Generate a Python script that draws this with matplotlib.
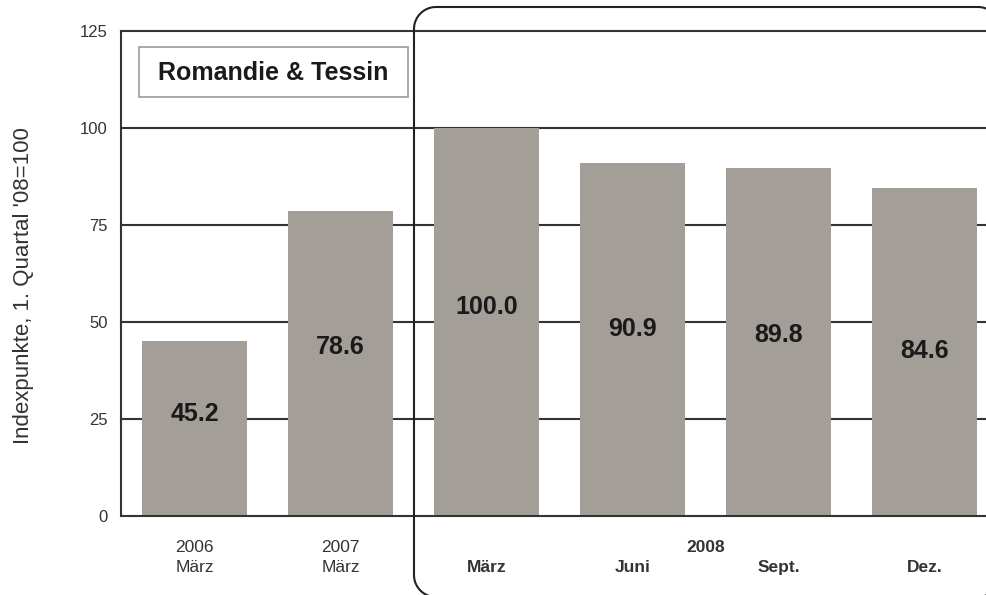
import matplotlib
matplotlib.use("Agg")
import numpy as np
import matplotlib.pyplot as plt
from matplotlib.patches import Rectangle
from matplotlib.lines import Line2D
from matplotlib.transforms import IdentityTransform, blended_transform_factory

plt.rcParams['font.family'] = ['Liberation Sans', 'DejaVu Sans']

# ---- data ----
years = ["2006", "2007", "2008", "2008", "2008", "2008"]
months = ["März", "März", "März", "Juni", "Sept.", "Dez."]
values = [45.2, 78.6, 100.0, 90.9, 89.8, 84.6]
value_labels = ["45.2", "78.6", "100.0", "90.9", "89.8", "84.6"]
yticks = [0, 25, 50, 75, 100, 125]
title_box = "Romandie & Tessin"
ylabel = "Indexpunkte, 1. Quartal '08=100"

# ---- layout ----
label_y = [26.3, 43.6, 53.9, 48.2, 46.6, 42.5]  # vertical position of value labels
W, H = 987, 595
fig = plt.figure(figsize=(W / 100, H / 100), dpi=100)
ax = fig.add_axes([121.5 / W, 79 / H, 876 / W, 485 / H])

bar_color = "#a39e98"
dark = "#333333"

x = list(range(len(values)))
ax.bar(x, values, width=0.72, color=bar_color, zorder=3)
ax.set_xlim(-0.5, len(values) - 0.5)
ax.set_ylim(0, 125)
ax.set_yticks(yticks)
ax.tick_params(axis='y', length=0, pad=10, labelsize=12, labelcolor=dark)
ax.set_xticks([])
for yv in yticks[1:]:
    ax.axhline(yv, color=dark, lw=1.5, zorder=1, clip_on=False)
for s in ["top", "right"]:
    ax.spines[s].set_visible(False)
for s in ["left", "bottom"]:
    ax.spines[s].set_color(dark)
    ax.spines[s].set_linewidth(1.5)
    ax.spines[s].set_zorder(4)

for xi, lab, ly in zip(x, value_labels, label_y):
    ax.text(xi, ly, lab, ha='center', va='center', fontsize=18,
            fontweight='bold', color='#1a1a1a', zorder=5)

trans = blended_transform_factory(ax.transData, ax.transAxes)
for xi, (yr, mo) in enumerate(zip(years, months)):
    if yr != "2008":
        ax.text(xi, -0.064, yr, transform=trans, ha='center', va='center',
                fontsize=12.5, color=dark)
        ax.text(xi, -0.107, mo, transform=trans, ha='center', va='center',
                fontsize=12.5, color=dark)
    else:
        ax.text(xi, -0.107, mo, transform=trans, ha='center', va='center',
                fontsize=12.5, fontweight='bold', color=dark)
idx08 = [i for i, yr in enumerate(years) if yr == "2008"]
ax.text((idx08[0] + idx08[-1]) / 2, -0.064, "2008", transform=trans,
        ha='center', va='center', fontsize=12.5, fontweight='bold', color=dark)

fig.text(24 / W, 1 - 286 / H, ylabel, rotation=90, ha='center', va='center',
         fontsize=16, color=dark)

# title box
fig.add_artist(Rectangle((139, H - 97), 269, 50, transform=IdentityTransform(),
                         facecolor='white', edgecolor='#999999', lw=1.2, zorder=6))
fig.text(273.5 / W, 1 - 73 / H, title_box, ha='center', va='center',
         fontsize=18, fontweight='bold', color='#1a1a1a', zorder=7)

# rounded highlight frame (polyline in pixel coordinates, y from top)
x0, x1, yt, yb, r = 414.0, 1000.0, 7.0, 597.0, 22.0
def arc(cx, cy, a0, a1, n=24):
    t = np.radians(np.linspace(a0, a1, n))
    return cx + r * np.cos(t), cy - r * np.sin(t)
segs_x, segs_y = [], []
for cx, cy, a0, a1 in [(x0 + r, yb - r, 270, 180),   # bottom-left
                       (x0 + r, yt + r, 180, 90),    # top-left
                       (x1 - r, yt + r, 90, 0),      # top-right
                       (x1 - r, yb - r, 0, -90)]:    # bottom-right
    ax_, ay_ = arc(cx, cy, a0, a1)
    segs_x.extend(ax_)
    segs_y.extend(ay_)
segs_x.append(segs_x[0])
segs_y.append(segs_y[0])
fx = np.array(segs_x)
fy = H - np.array(segs_y)
fig.add_artist(Line2D(fx, fy, transform=IdentityTransform(), color='#222222',
                      lw=1.5, zorder=8))

fig.savefig("out.png", dpi=100)
